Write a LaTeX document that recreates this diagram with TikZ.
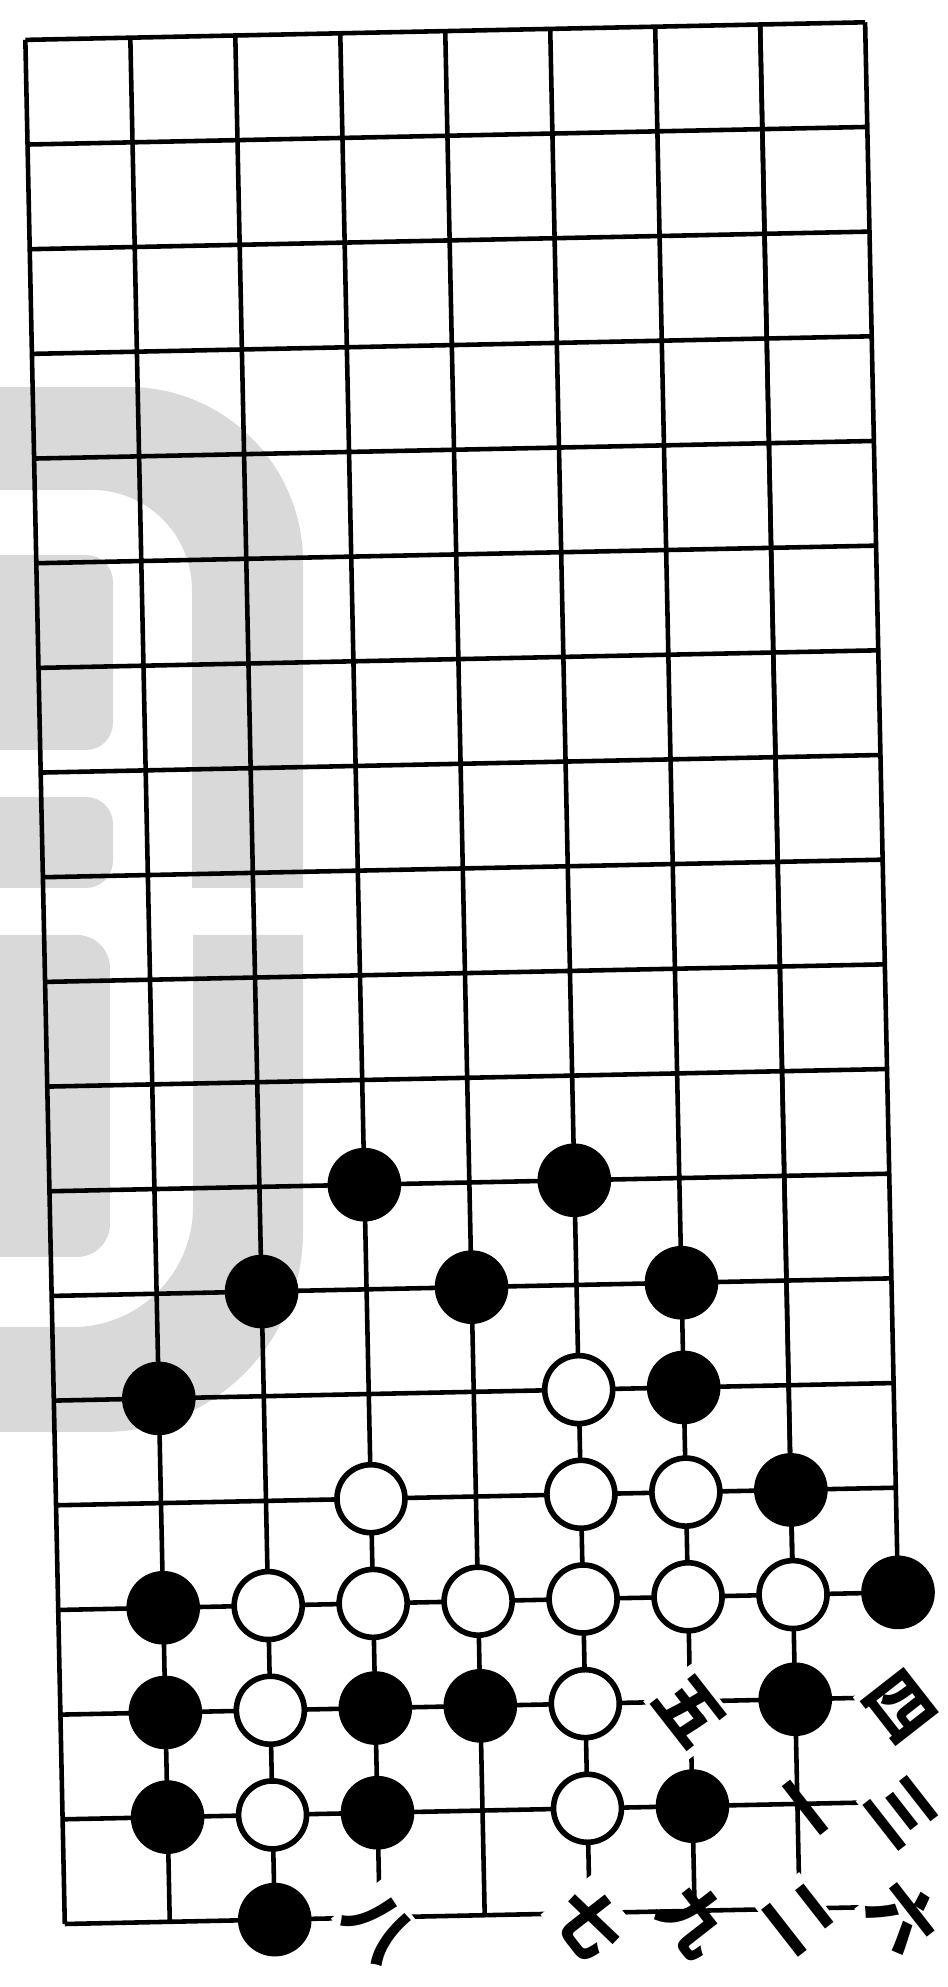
\documentclass[tikz,border=0pt]{standalone}
\usepackage{fontspec}
\newfontfamily\cjk{Noto Sans CJK SC}

\begin{document}
\begin{tikzpicture}[
    stone/.style={circle, minimum size=0.68cm, inner sep=0pt, line width=1.6pt, draw=black},
    blackstone/.style={stone, fill=black},
    whitestone/.style={stone, fill=white},
    movenum/.style={font={\cjk\bfseries\fontsize{19}{19}\selectfont}, inner sep=1pt, yshift=-1mm, rotate=-52},
    movecut/.style={movenum, fill=white},
    board/.style={line width=1.3pt, black},
    wmark/.style={fill=black!15}
]

    % Page
    \useasboundingbox (0,0) rectangle (9.47,19.87);
    \fill[white] (0,0) rectangle (9.47,19.87);

    % Watermark
    \begin{scope}
    \clip (0,0) rectangle (9.47,19.87);
    \fill[wmark] (0,16.00) -- (1.28,16.00) arc[start angle=90, end angle=0, radius=1.75]
        -- (3.03,10.99) -- (1.92,10.99) -- (1.92,13.97) arc[start angle=0, end angle=90, radius=1.0]
        -- (0,14.97) -- cycle;
    \fill[wmark, rounded corners=0.27cm] (-0.4,12.37) rectangle (1.13,14.32);
    \fill[wmark, rounded corners=0.27cm] (-0.4,10.99) rectangle (1.13,11.90);
    \fill[wmark, rounded corners=0.33cm] (-0.4,7.30) rectangle (1.10,10.52);
    \fill[wmark] (1.93,10.52) -- (3.03,10.52) -- (3.03,7.55) arc[start angle=0, end angle=-90, radius=2.0]
        -- (0,5.55) -- (0,6.60) -- (0.73,6.60) arc[start angle=-90, end angle=0, radius=1.2]
        -- cycle;
    \end{scope}

    \begin{scope}[shift={(0.648,0.63)}, rotate=1.2, x=1.05cm, y=1.047cm]

    % Board
    \draw[board, step=1] (0,0) grid (7,18);
    \draw[board, step=1] (7,3) grid (8,18);
    \draw[board] (7,0) -- (8,0) (7,1) -- (8,1) (7,2) -- (8,2);

    % Black stones
    \node[blackstone] (b20) at (2,0) {};
    \node[blackstone] (b11) at (1,1) {};
    \node[blackstone] (b31) at (3,1) {};
    \node[blackstone] (b61) at (6,1) {};
    \node[blackstone] (b12) at (1,2) {};
    \node[blackstone] (b32) at (3,2) {};
    \node[blackstone] (b42) at (4,2) {};
    \node[blackstone] (b72) at (7,2) {};
    \node[blackstone] (b13) at (1,3) {};
    \node[blackstone] (b83) at (8,3) {};
    \node[blackstone] (b74) at (7,4) {};
    \node[blackstone] (b15) at (1,5) {};
    \node[blackstone] (b65) at (6,5) {};
    \node[blackstone] (b26) at (2,6) {};
    \node[blackstone] (b46) at (4,6) {};
    \node[blackstone] (b66) at (6,6) {};
    \node[blackstone] (b37) at (3,7) {};
    \node[blackstone] (b57) at (5,7) {};

    % White stones
    \node[whitestone] (w21) at (2,1) {};
    \node[whitestone] (w51) at (5,1) {};
    \node[whitestone] (w22) at (2,2) {};
    \node[whitestone] (w52) at (5,2) {};
    \node[whitestone] (w23) at (2,3) {};
    \node[whitestone] (w33) at (3,3) {};
    \node[whitestone] (w43) at (4,3) {};
    \node[whitestone] (w53) at (5,3) {};
    \node[whitestone] (w63) at (6,3) {};
    \node[whitestone] (w73) at (7,3) {};
    \node[whitestone] (w34) at (3,4) {};
    \node[whitestone] (w54) at (5,4) {};
    \node[whitestone] (w64) at (6,4) {};
    \node[whitestone] (w55) at (5,5) {};

    % Move numbers
    \node[movenum] (mv1) at (7,1) {一};
    \node[movecut] (mv2) at (7,0) {二};
    \node[movecut] (mv3) at (8,1) {三};
    \node[movecut] (mv4) at (8,2) {四};
    \node[movecut] (mv5) at (6,2) {五};
    \node[movecut] (mv6) at (8,0) {六};
    \node[movecut] (mv7) at (5,0) {七};
    \node[movecut] (mv8) at (3,0) {八};
    \node[movenum] (mv9) at (6,0) {九};

    \end{scope}

\end{tikzpicture}
\end{document}
